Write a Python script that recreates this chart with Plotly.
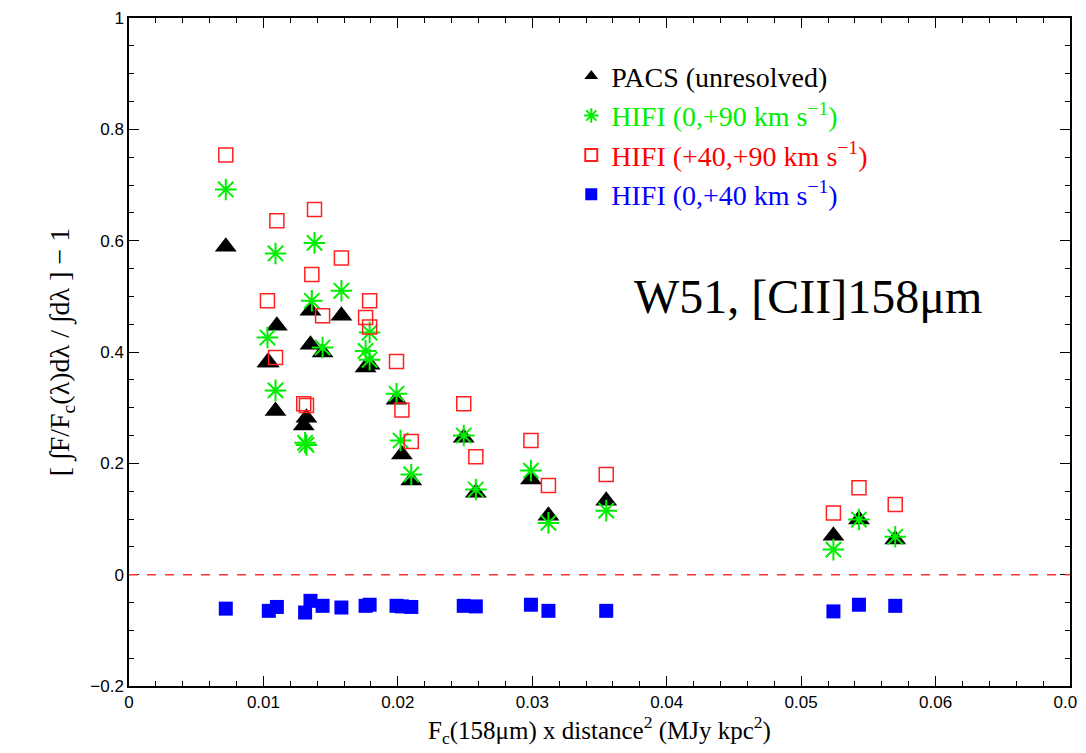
import plotly.graph_objects as go

pacs_x = [0.0072,0.0103,0.0110,0.0104,0.0109,0.0135,0.0135,0.0144,0.0158,0.0132,0.0130,0.0176,0.0179,0.0199,0.0203,0.0210,0.0249,0.0258,0.0299,0.0312,0.0355,0.0524,0.0543,0.0570]
pacs_y = [0.589,0.381,0.447,0.381,0.294,0.474,0.413,0.399,0.465,0.282,0.268,0.372,0.377,0.314,0.216,0.169,0.246,0.147,0.171,0.106,0.133,0.070,0.099,0.063]

g_x = [0.0072,0.0109,0.0138,0.0103,0.0109,0.0136,0.0144,0.0158,0.0131,0.0132,0.0176,0.0179,0.0179,0.0199,0.0202,0.0210,0.0249,0.0258,0.0299,0.0312,0.0355,0.0524,0.0543,0.0570]
g_y = [0.692,0.577,0.596,0.426,0.331,0.492,0.408,0.510,0.237,0.233,0.402,0.435,0.386,0.325,0.241,0.180,0.250,0.153,0.187,0.093,0.115,0.045,0.099,0.068]

r_x = [0.0072,0.0110,0.0138,0.0158,0.0136,0.0103,0.0144,0.0179,0.0176,0.0179,0.0109,0.0199,0.0130,0.0132,0.0203,0.0210,0.0249,0.0258,0.0299,0.0312,0.0355,0.0524,0.0543,0.0570]
r_y = [0.754,0.636,0.656,0.569,0.539,0.492,0.465,0.492,0.462,0.445,0.390,0.383,0.307,0.304,0.296,0.239,0.307,0.212,0.241,0.160,0.180,0.111,0.156,0.126]

b_x = [0.0072,0.0104,0.0110,0.0131,0.0135,0.0144,0.0158,0.0176,0.0179,0.0199,0.0203,0.0210,0.0249,0.0258,0.0299,0.0312,0.0355,0.0524,0.0543,0.0570]
b_y = [-0.061,-0.065,-0.058,-0.068,-0.047,-0.056,-0.059,-0.056,-0.054,-0.056,-0.057,-0.058,-0.056,-0.057,-0.054,-0.065,-0.065,-0.066,-0.054,-0.056]

fig = go.Figure()
fig.add_trace(go.Scatter(x=pacs_x, y=pacs_y, mode="markers", name="PACS (unresolved)",
                         marker=dict(symbol="triangle-up", size=19, color="black")))
fig.add_trace(go.Scatter(x=g_x, y=g_y, mode="markers",
                         name="<span style='color:#00ee00'>HIFI (0,+90 km s<sup>−1</sup>)</span>",
                         marker=dict(symbol="asterisk-open", size=18, color="#00ee00", line=dict(color="#00ee00", width=2))))
fig.add_trace(go.Scatter(x=r_x, y=r_y, mode="markers",
                         name="<span style='color:#ff0000'>HIFI (+40,+90 km s<sup>−1</sup>)</span>",
                         marker=dict(symbol="square-open", size=14, color="#ff2020", line=dict(color="#ff2020", width=1.5))))
fig.add_trace(go.Scatter(x=b_x, y=b_y, mode="markers",
                         name="<span style='color:#0000ff'>HIFI (0,+40 km s<sup>−1</sup>)</span>",
                         marker=dict(symbol="square", size=14, color="#0000ff")))

fig.add_shape(type="line", xref="paper", x0=0, x1=1, y0=0, y1=0,
              line=dict(color="#ff3030", width=1.5, dash="dash"))
fig.add_annotation(x=0.0505, y=0.5, text="W51, [CII]158μm", showarrow=False,
                   font=dict(family="Liberation Serif", size=48, color="black"))

ax = dict(showline=True, linecolor="black", linewidth=1.5, mirror="ticks", ticks="inside",
          ticklen=10, tickcolor="black", showgrid=False, zeroline=False, automargin=False,
          tickfont=dict(family="Liberation Sans", size=17, color="black"),
          minor=dict(ticks="inside", ticklen=5, tickcolor="black"))
fig.update_xaxes(**ax, range=[0, 0.07], dtick=0.01, minor_dtick=0.002,
                 title=dict(text="F<sub>c</sub>(158μm) x distance<sup>2</sup> (MJy kpc<sup>2</sup>)",
                            font=dict(family="Liberation Serif", size=25, color="black"), standoff=8))
fig.update_yaxes(**ax, range=[-0.2, 1], dtick=0.2, minor_dtick=0.05,
                 title=dict(text="[ ∫F/F<sub>c</sub>(λ)dλ / ∫dλ ] − 1",
                            font=dict(family="Liberation Serif", size=28, color="black"), standoff=12))
fig.update_layout(width=1086, height=753, margin=dict(l=121, r=24, t=10, b=75),
                  plot_bgcolor="white", paper_bgcolor="white",
                  legend=dict(x=0.47, y=0.95, xanchor="left", yanchor="top", bgcolor="rgba(0,0,0,0)",
                              font=dict(family="Liberation Serif", size=28, color="black"),
                              itemsizing="constant", tracegroupgap=0))
fig.write_html("out.html")
